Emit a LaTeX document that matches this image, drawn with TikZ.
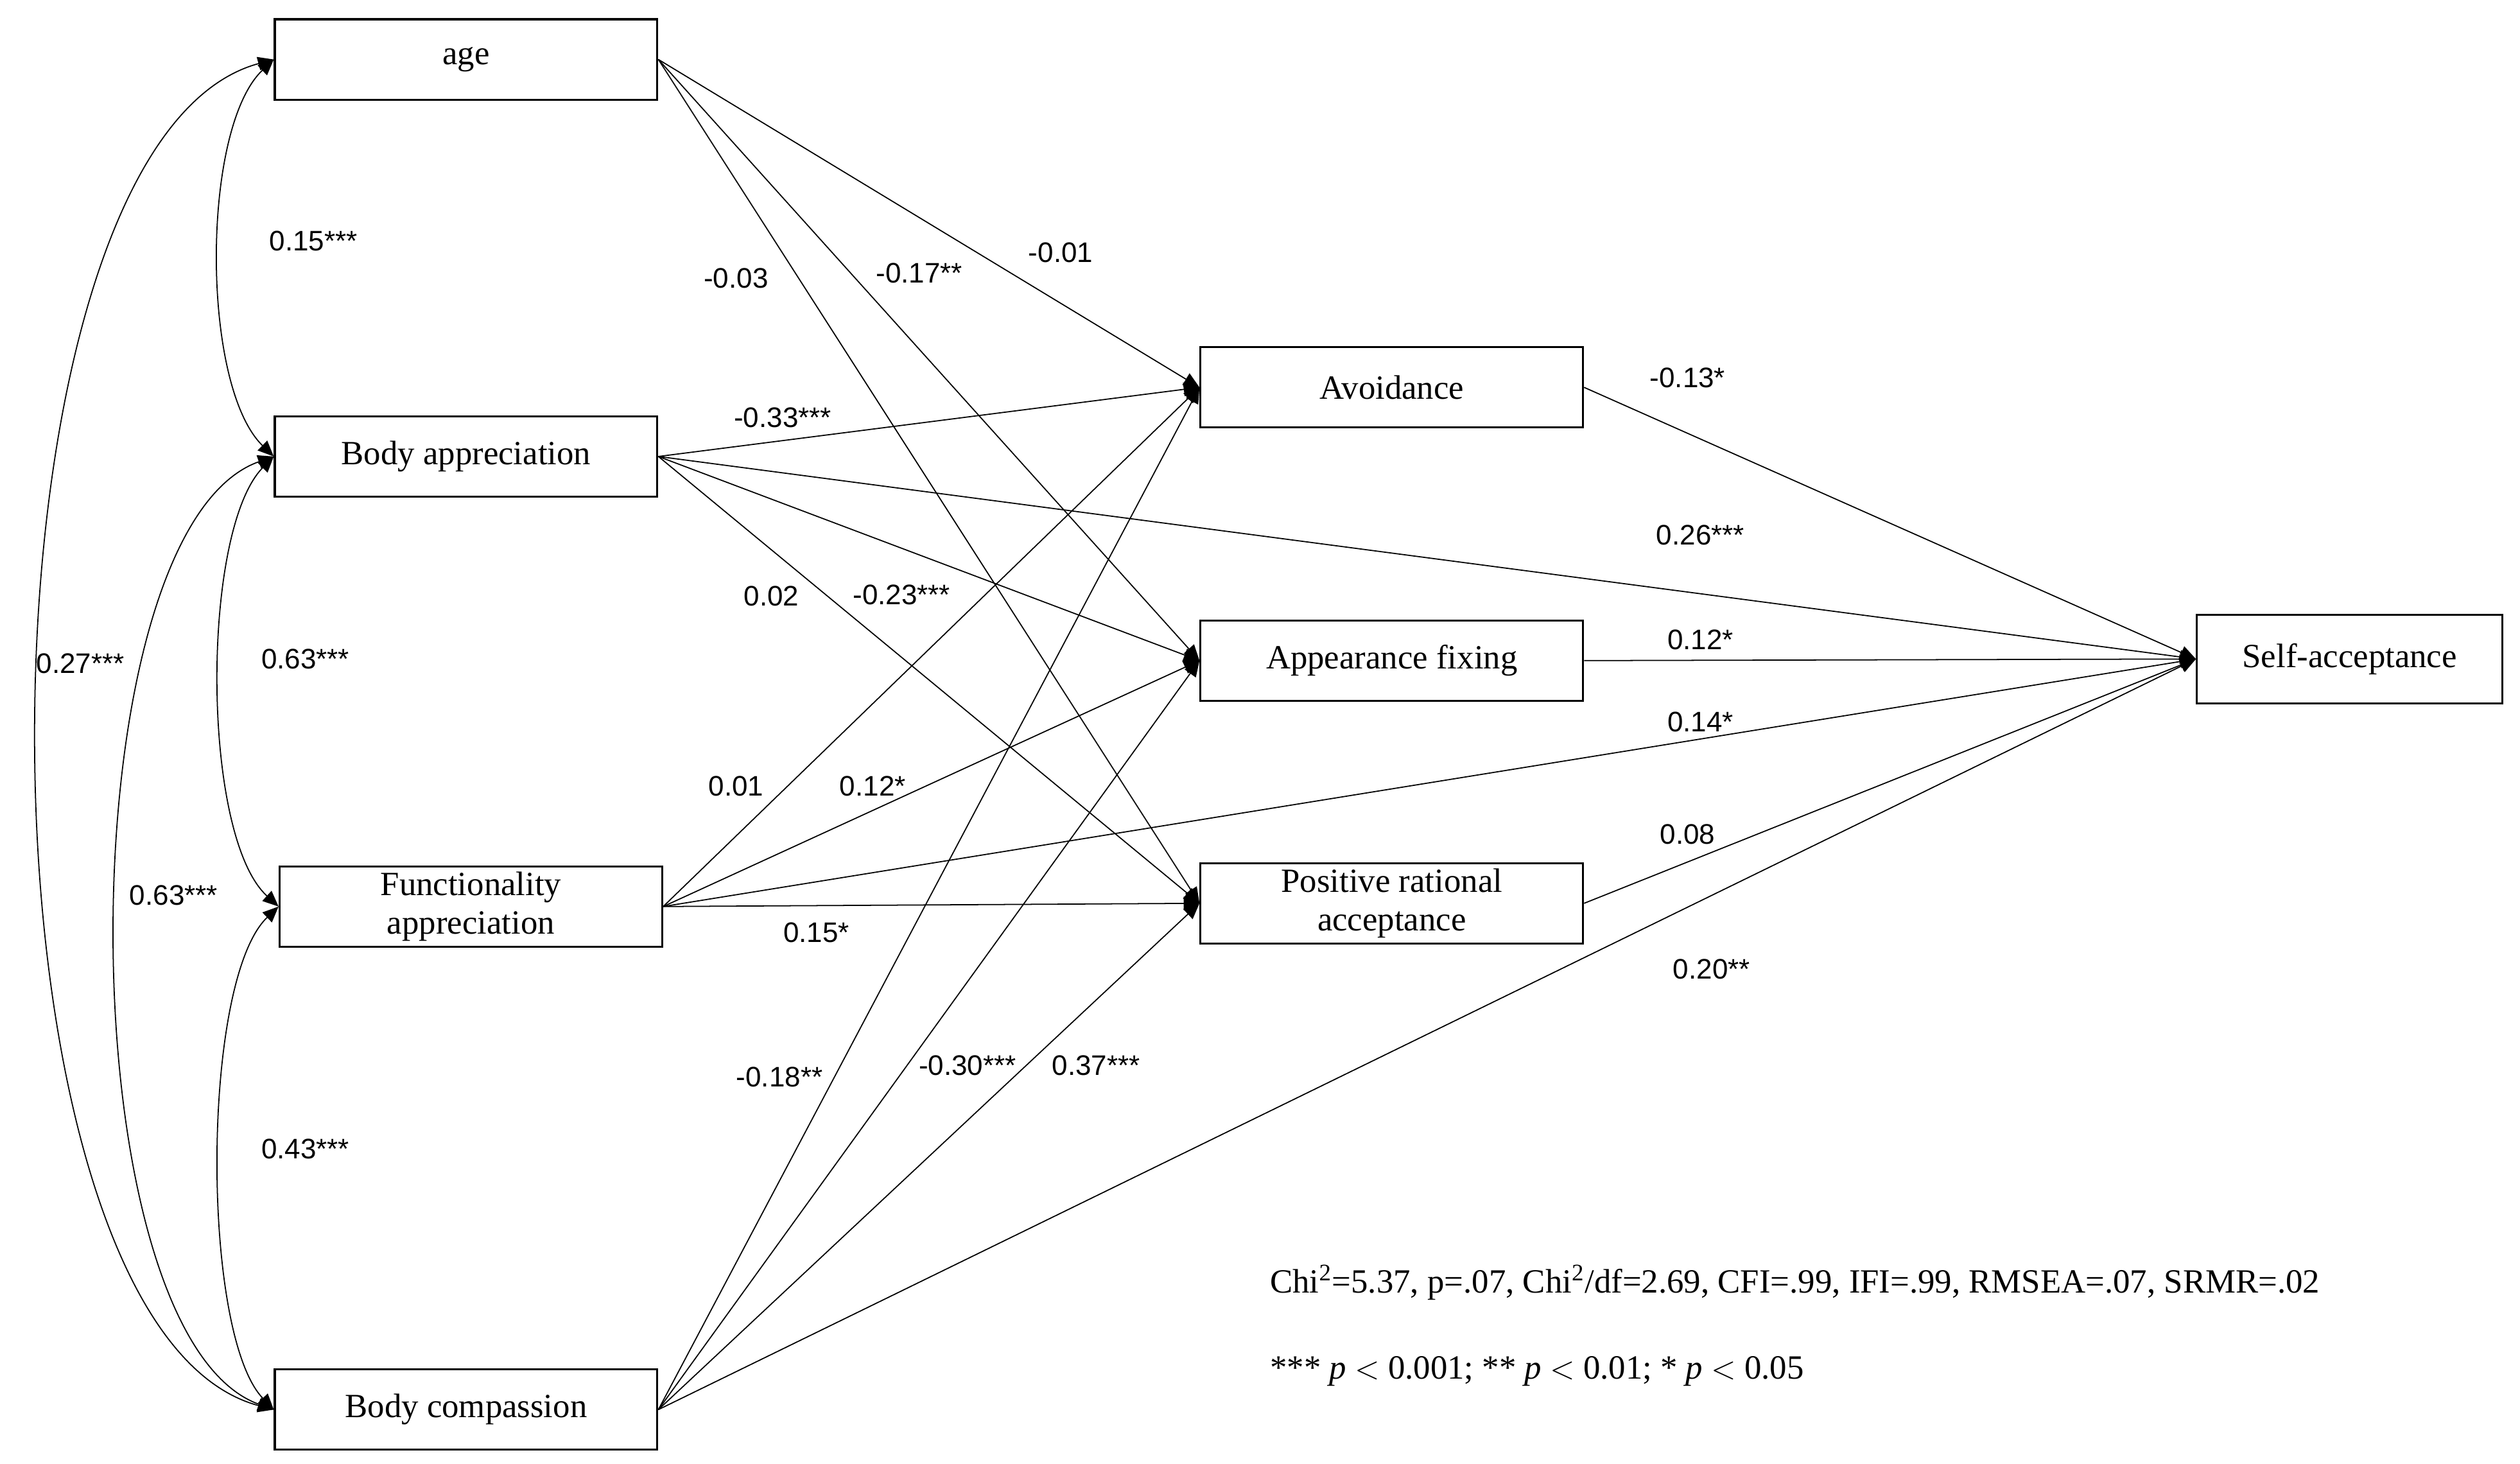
\documentclass[tikz,border=0pt]{standalone}
\usepackage{fontspec}
\setmainfont{Liberation Serif}
\newfontfamily\lsans{Liberation Sans}
\usetikzlibrary{arrows.meta}
\begin{document}
\begin{tikzpicture}[x=0.025cm,y=-0.025cm,
 box/.style={draw,line width=0.9pt,minimum width=5.95cm,minimum height=1.25cm,align=center,font=\fontsize{15}{17}\selectfont,inner sep=1pt},
 lab/.style={font=\lsans\fontsize{12.5}{14}\selectfont,inner sep=0pt},
 pth/.style={line width=0.5pt,-{Triangle[length=7pt,width=6pt]}},
 cov/.style={line width=0.5pt,{Triangle[length=7pt,width=6pt]}-{Triangle[length=7pt,width=6pt]}}]
\useasboundingbox (0,0) rectangle (1568,910.5);
\node[box] (age) at (290,37) {age};
\node[box] (ba) at (290,284) {Body appreciation};
\node[box] (fa) at (293,564) {Functionality\\appreciation};
\node[box] (bc) at (290,877) {Body compassion};
\node[box] (av) at (866,241) {Avoidance};
\node[box] (af) at (866,411) {Appearance fixing};
\node[box] (pr) at (866,562) {Positive rational\\acceptance};
\node[box,minimum width=4.75cm,minimum height=1.38cm] (sa) at (1462,410) {Self-acceptance};
% covariances
\draw[cov] (age.west) .. controls (125,80) and (125,240) .. (ba.west);
\draw[cov] (ba.west) .. controls (125,330) and (125,520) .. (fa.west);
\draw[cov] (fa.west) .. controls (125,610) and (125,830) .. (bc.west);
\draw[cov] (ba.west) .. controls (40,330) and (40,830) .. (bc.west);
\draw[cov] (age.west) .. controls (-25,90) and (-25,825) .. (bc.west);
% paths
\foreach \s in {age,ba,fa,bc}{\foreach \t in {av,af,pr}{\draw[pth] (\s.east) -- (\t.west);}}
\foreach \s in {ba,fa,bc,av,af,pr}{\draw[pth] (\s.east) -- (sa.west);}
% labels
\node[lab] (l1) at (195,150) {0.15***};
\node[lab] (l2) at (190,410) {0.63***};
\node[lab] (l3) at (190,715) {0.43***};
\node[lab] (l4) at (108,557) {0.63***};
\node[lab] (l5) at (50,413) {0.27***};
\node[lab] (l6) at (660,157) {-0.01};
\node[lab] (l7) at (572,170) {-0.17**};
\node[lab] (l8) at (458,173) {-0.03};
\node[lab] (l9) at (487,260) {-0.33***};
\node[lab] (l10) at (1058,333) {0.26***};
\node[lab] (l11) at (561,370) {-0.23***};
\node[lab] (l12) at (480,371) {0.02};
\node[lab] (l13) at (458,489) {0.01};
\node[lab] (l14) at (543,489) {0.12*};
\node[lab] (l15) at (1058,449) {0.14*};
\node[lab] (l16) at (508,580) {0.15*};
\node[lab] (l17) at (485,670) {-0.18**};
\node[lab] (l18) at (602,663) {-0.30***};
\node[lab] (l19) at (682,663) {0.37***};
\node[lab] (l20) at (1065,603) {0.20**};
\node[lab] (l21) at (1050,235) {-0.13*};
\node[lab] (l22) at (1058,398) {0.12*};
\node[lab] (l23) at (1050,519) {0.08};
\node[anchor=west,inner sep=0pt,font=\fontsize{15}{17}\selectfont] (fit) at (790,798) {Chi\textsuperscript{2}=5.37, p=.07, Chi\textsuperscript{2}/df=2.69, CFI=.99, IFI=.99, RMSEA=.07, SRMR=.02};
\node[anchor=west,inner sep=0pt,font=\fontsize{15}{17}\selectfont] (sig) at (790,853) {*** \textit{p} $<$ 0.001; ** \textit{p} $<$ 0.01; * \textit{p} $<$ 0.05};
\end{tikzpicture}
\end{document}
